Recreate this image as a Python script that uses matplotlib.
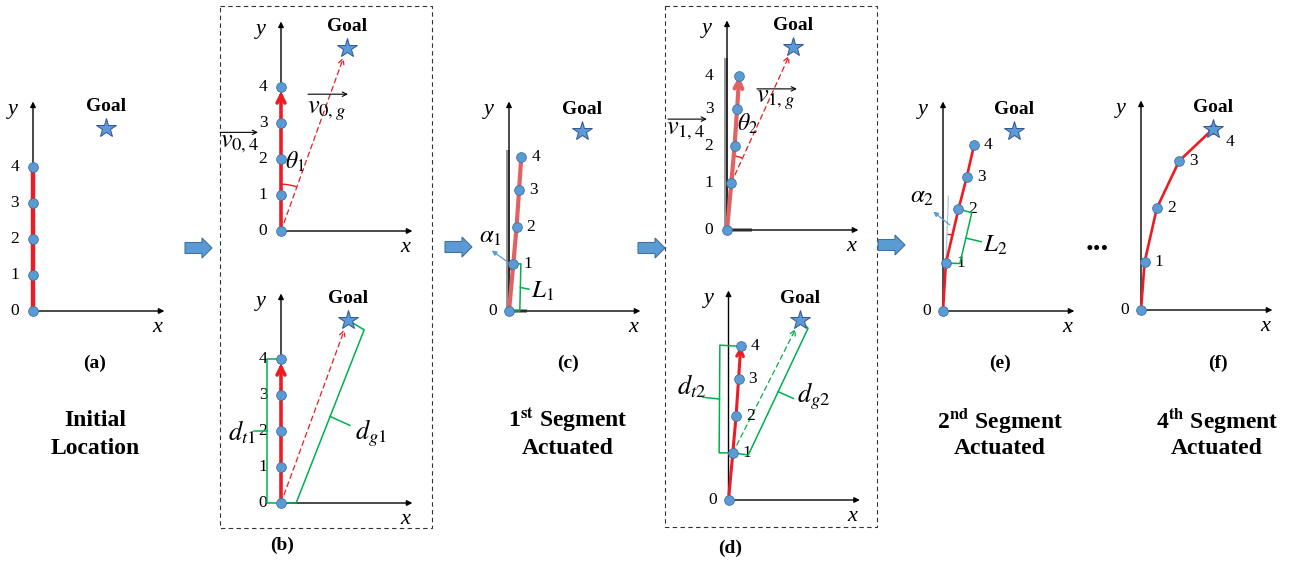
import matplotlib
matplotlib.use("Agg")
import matplotlib.pyplot as plt
from matplotlib.patches import Arc, Rectangle, FancyArrow

plt.rcParams["font.family"] = ["Liberation Serif", "DejaVu Serif"]
plt.rcParams["mathtext.fontset"] = "stix"

# ---- data (panel units: one node spacing = 1) ----
init_x = [0, 0, 0, 0, 0]
init_y = [0, 1, 2, 3, 4]
seg1_x = [0, 0.12, 0.21, 0.28, 0.34]
seg1_y = [0, 1.31, 2.33, 3.36, 4.27]
seg2_x = [0, 0.08, 0.43, 0.66, 0.86]
seg2_y = [0, 1.33, 2.83, 3.72, 4.60]
seg4_x = [0, 0.10, 0.44, 1.06, 1.99]
seg4_y = [0, 1.33, 2.83, 4.14, 5.02]
node_labels = ["0", "1", "2", "3", "4"]

goal_a = (2.03, 5.08)
goal_b_top = (1.83, 5.08)
goal_b_bot = (1.86, 5.08)
goal_c = (2.02, 5.01)
goal_d_top = (1.84, 5.09)
goal_d_bot = (1.99, 5.00)
goal_e = (1.97, 5.01)
goal_f = (1.99, 5.03)

captions = ["(a)", "(b)", "(c)", "(d)", "(e)", "(f)"]

RED = "#ec1c24"
LRED = "#e06262"
BLUE = "#5b9bd5"
BEDGE = "#41719c"
GREEN = "#00b050"

W, H = 1299, 561
U = 36  # pixels per unit

fig = plt.figure(figsize=(W / 100, H / 100), dpi=100)
base = fig.add_axes([0, 0, 1, 1])
base.set_xlim(0, W)
base.set_ylim(H, 0)
base.axis("off")


def arrow(ax, p, q, color="black", lw=1.0, style="-|>", ms=9, ls="-", shrinkB=0, z=2):
    ax.annotate("", xy=q, xytext=p, zorder=z,
                arrowprops=dict(arrowstyle=style, color=color, lw=lw, ls=ls,
                                mutation_scale=ms, shrinkA=0, shrinkB=shrinkB))


def panel(ox, oy):
    x0, x1, y0, y1 = -2.2, 4.2, -1.0, 6.3
    ax = fig.add_axes([(ox + x0 * U) / W, (H - oy + y0 * U) / H,
                       (x1 - x0) * U / W, (y1 - y0) * U / H])
    ax.set_xlim(x0, x1)
    ax.set_ylim(y0, y1)
    ax.axis("off")
    arrow(ax, (0, 0), (0, 5.82), lw=1.0, ms=8)
    arrow(ax, (0, 0), (3.65, 0), lw=1.0, ms=8)
    ax.text(-0.55, 5.6, "y", fontsize=16, style="italic", ha="center", va="center")
    ax.text(3.45, -0.47, "x", fontsize=16, style="italic", ha="center", va="center")
    return ax


def nodes(ax, xs, ys):
    ax.plot(xs, ys, "o", ms=7, mfc=BLUE, mec=BEDGE, mew=0.6, zorder=6, clip_on=False)


def goal(ax, g):
    ax.plot(*g, marker="*", ms=15, mfc=BLUE, mec="#2f5597", mew=0.7, zorder=7, clip_on=False)
    ax.text(g[0], g[1] + 0.6, "Goal", fontsize=14, fontweight="bold", ha="center", va="center")


def left_ticks(ax, ys):
    for s, y in zip(node_labels, ys):
        ax.text(-0.5, y, s, fontsize=12.5, ha="center", va="center")


def right_ticks(ax, xs, ys):
    ax.text(-0.45, 0, "0", fontsize=12.5, ha="center", va="center")
    for s, x, y in zip(node_labels[1:], xs[1:], ys[1:]):
        ax.text(x + 0.28, y, s, fontsize=12.5, ha="left", va="center")


def bracket(ax, p, pa, q, qa, tip, color=GREEN):
    ax.plot([p[0], pa[0], qa[0], q[0]], [p[1], pa[1], qa[1], q[1]],
            color=color, lw=1.1, zorder=4, clip_on=False)
    m = ((pa[0] + qa[0]) / 2, (pa[1] + qa[1]) / 2)
    ax.plot([m[0], m[0] + tip[0]], [m[1], m[1] + tip[1]], color=color, lw=1.1, zorder=4)


def shadow(ax, top, stub):
    ax.plot([-0.03, -0.03], [0, top], color="#7f7f7f", lw=2.8, alpha=0.85, zorder=1)
    ax.plot([0, stub], [0, 0], color="#7f7f7f", lw=2.8, alpha=0.85, zorder=1)


# ---- (a) initial ----
ax = panel(33, 311)
ax.plot(init_x, init_y, color=RED, lw=3.2, zorder=3)
nodes(ax, init_x, init_y)
goal(ax, goal_a)
left_ticks(ax, init_y)

# ---- (b) top ----
ax = panel(281, 231)
arrow(ax, (0, 0), (0, 4), color=RED, lw=2.6, style="->", ms=14, shrinkB=3, z=3)
arrow(ax, (0, 0), goal_b_top, color=RED, lw=0.9, style="->", ms=10, ls=(0, (4, 3)), shrinkB=7)
ax.add_patch(Arc((0, 0), 2.6, 2.6, theta1=70.2, theta2=90, color=RED, lw=1.0))
nodes(ax, init_x, init_y)
goal(ax, goal_b_top)
left_ticks(ax, init_y)
arrow(ax, (0.75, 3.8), (1.86, 3.8), lw=0.8, style="->", ms=8)
ax.text(1.26, 3.33, r"$v_{0,g}$", fontsize=19, ha="center", va="center")
arrow(ax, (-1.69, 2.74), (-0.64, 2.74), lw=0.8, style="->", ms=8)
ax.text(-1.15, 2.42, r"$v_{0,4}$", fontsize=19, ha="center", va="center")
ax.text(0.39, 1.92, r"$\theta_1$", fontsize=17, ha="center", va="center")

# ---- (b) bottom ----
ax = panel(281, 503)
arrow(ax, (0, 0), (0, 4), color=RED, lw=2.6, style="->", ms=14, shrinkB=3, z=3)
arrow(ax, (0, 0), goal_b_bot, color=RED, lw=0.9, style="->", ms=10, ls=(0, (4, 3)), shrinkB=7)
bracket(ax, (0, 0), (-0.39, 0), (0, 4), (-0.39, 4), (-0.37, 0))
bracket(ax, (0, 0), (0.42, 0), goal_b_bot, (2.31, 4.81), (0.55, -0.25))
nodes(ax, init_x, init_y)
goal(ax, goal_b_bot)
left_ticks(ax, init_y)
ax.text(-0.7, 1.97, r"$d_{t1}$", fontsize=19, ha="right", va="center")
ax.text(2.05, 1.94, r"$d_{g1}$", fontsize=19, ha="left", va="center")

# ---- (c) first segment actuated ----
ax = panel(509, 311)
shadow(ax, 4.42, 0.45)
ax.plot(seg1_x, seg1_y, color=LRED, lw=3.0, zorder=3)
nodes(ax, seg1_x, seg1_y)
goal(ax, goal_c)
right_ticks(ax, seg1_x, seg1_y)
ax.add_patch(Arc((0, 0), 2.3, 2.3, theta1=84.8, theta2=90, color=RED, lw=1.0))
arrow(ax, (0.075, 1.28), (-0.48, 1.68), color=BLUE, lw=0.9, ms=7)
ax.text(-0.53, 2.06, r"$\alpha_1$", fontsize=18, ha="center", va="center")
bracket(ax, (0, 0), (0.3, 0), (seg1_x[1], seg1_y[1]), (0.33, 1.31), (0.24, -0.05))
ax.text(0.62, 0.55, r"$L_1$", fontsize=18, ha="left", va="center")

# ---- (d) top ----
ax = panel(727, 230)
shadow(ax, 4.72, 0.64)
ax.plot(seg1_x[:4], seg1_y[:4], color=LRED, lw=3.0, zorder=3)
arrow(ax, (seg1_x[3], seg1_y[3]), (seg1_x[4], seg1_y[4]), color=LRED, lw=3.0,
      style="->", ms=14, z=3)
arrow(ax, (seg1_x[1], seg1_y[1]), goal_d_top, color=RED, lw=0.9, style="->", ms=10,
      ls=(0, (4, 3)), shrinkB=7)
ax.add_patch(Arc((seg1_x[1], seg1_y[1]), 1.5, 1.5, theta1=65.5, theta2=85.7, color=RED, lw=1.0))
nodes(ax, seg1_x, seg1_y)
goal(ax, goal_d_top)
left_ticks(ax, seg1_y)
arrow(ax, (0.83, 3.92), (1.94, 3.92), lw=0.8, style="->", ms=8)
ax.text(1.35, 3.6, r"$v_{1,g}$", fontsize=19, ha="center", va="center")
arrow(ax, (-1.64, 3.08), (-0.56, 3.08), lw=0.8, style="->", ms=8)
ax.text(-1.15, 2.75, r"$v_{1,4}$", fontsize=19, ha="center", va="center")
ax.text(0.56, 2.94, r"$\theta_2$", fontsize=17, ha="center", va="center")

# ---- (d) bottom ----
ax = panel(728.5, 500)
ax.plot(seg1_x[:4], seg1_y[:4], color=RED, lw=2.2, zorder=3)
arrow(ax, (seg1_x[3], seg1_y[3]), (seg1_x[4], seg1_y[4]), color=RED, lw=2.2,
      style="->", ms=12, z=3)
arrow(ax, (seg1_x[1], seg1_y[1]), goal_d_bot, color=GREEN, lw=0.9, style="->", ms=10,
      ls=(0, (4, 3)), shrinkB=7)
bracket(ax, (seg1_x[1], seg1_y[1]), (-0.26, 1.31), (seg1_x[4], seg1_y[4]), (-0.24, 4.3),
        (-0.46, 0.05))
bracket(ax, (seg1_x[1], seg1_y[1]), (0.55, 1.25), goal_d_bot, (2.21, 4.77), (0.42, -0.19))
nodes(ax, seg1_x, seg1_y)
goal(ax, goal_d_bot)
right_ticks(ax, seg1_x, seg1_y)
ax.text(-0.62, 3.15, r"$d_{t2}$", fontsize=19, ha="right", va="center")
ax.text(1.9, 2.87, r"$d_{g2}$", fontsize=19, ha="left", va="center")

# ---- (e) second segment actuated ----
ax = panel(943, 311)
ax.plot([seg2_x[1], 0.15], [seg2_y[1], 3.19], color="#a9cbe8", lw=0.9, zorder=2)
ax.plot(seg2_x, seg2_y, color=RED, lw=1.9, zorder=3)
ax.add_patch(Arc((seg2_x[1], seg2_y[1]), 1.6, 1.6, theta1=76.9, theta2=87.8, color=RED, lw=1.0))
arrow(ax, (0.19, 2.39), (-0.27, 2.76), color=BLUE, lw=0.9, ms=7)
ax.text(-0.59, 3.18, r"$\alpha_2$", fontsize=18, ha="center", va="center")
bracket(ax, (seg2_x[1], seg2_y[1]), (0.47, 1.32), (seg2_x[2], seg2_y[2]), (0.8, 2.73),
        (0.43, -0.1))
ax.text(1.12, 1.83, r"$L_2$", fontsize=18, ha="left", va="center")
nodes(ax, seg2_x, seg2_y)
goal(ax, goal_e)
right_ticks(ax, seg2_x, seg2_y)

# ---- (f) fourth segment actuated ----
ax = panel(1141, 310)
ax.plot(seg4_x, seg4_y, color=RED, lw=1.9, zorder=3)
nodes(ax, seg4_x, seg4_y)
goal(ax, goal_f)
right_ticks(ax, seg4_x[:4], seg4_y[:4])
ax.text(seg4_x[4] + 0.36, seg4_y[4] - 0.35, "4", fontsize=12.5, ha="left", va="center")

# ---- layout: boxes, block arrows, captions ----
for x0, x1, y0, y1 in [(220, 432, 6, 528), (665, 877, 6, 527)]:
    base.add_patch(Rectangle((x0, y0), x1 - x0, y1 - y0, fill=False, ec="#333333",
                             lw=0.8, ls=(0, (4, 3))))
for xa, ya in [(185, 248), (445, 247), (638, 248), (878, 245)]:
    base.add_patch(FancyArrow(xa, ya, 27, 0, width=11, head_width=20, head_length=10,
                              length_includes_head=True, fc=BLUE, ec=BEDGE, lw=0.8))
base.text(1097, 250, "...", fontsize=22, fontweight="bold", ha="center", va="baseline")

cap_pos = [(95, 363), (282, 545), (568, 363), (730, 548), (1000, 363), (1218, 363)]
for s, (cx, cy) in zip(captions, cap_pos):
    base.text(cx, cy, s, fontsize=14, fontweight="bold", ha="center", va="center")

titles = [(95, "Initial", "Location"),
          (568, r"1$^{\mathbf{st}}$ Segment", "Actuated"),
          (1000, r"2$^{\mathbf{nd}}$ Segment", "Actuated"),
          (1217, r"4$^{\mathbf{th}}$ Segment", "Actuated")]
for cx, l1, l2 in titles:
    base.text(cx, 420, l1, fontsize=17, fontweight="bold", ha="center", va="center")
    base.text(cx, 448, l2, fontsize=17, fontweight="bold", ha="center", va="center")

fig.savefig("out.png", dpi=100)
